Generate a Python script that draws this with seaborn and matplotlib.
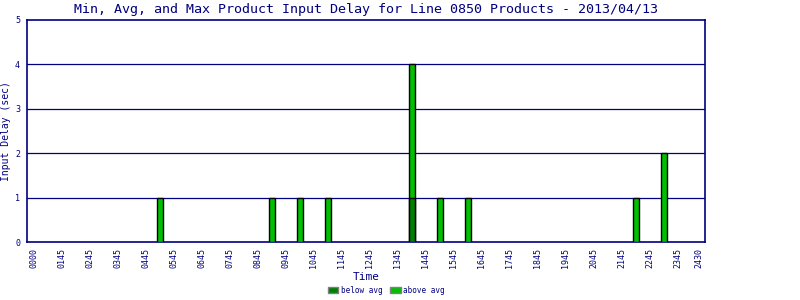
import matplotlib
matplotlib.use("Agg")
import matplotlib.pyplot as plt
import seaborn as sns
import pandas as pd
from matplotlib.patches import Patch

# ---- data ----
bar_times = ["0515", "0915", "1015", "1115", "1415", "1515", "1615", "2215", "2315"]
below_avg = [0, 0, 0, 0, 1, 0, 0, 0, 0]
above_avg = [1, 1, 1, 1, 3, 1, 1, 1, 2]
tick_labels = ["0000", "0145", "0245", "0345", "0445", "0545", "0645", "0745", "0845",
               "0945", "1045", "1145", "1245", "1345", "1445", "1545", "1645", "1745",
               "1845", "1945", "2045", "2145", "2245", "2345", "2430"]
tick_pos = [0.75 + i for i in range(24)] + [24.5]

def to_hours(t):
    return int(t[:2]) + int(t[2:]) / 60.0

x_hours = [to_hours(t) for t in bar_times]
totals = [b + a for b, a in zip(below_avg, above_avg)]
df = pd.DataFrame({"x": x_hours, "below": below_avg, "total": totals})

navy = "#000080"
dark_green = "#008000"
light_green = "#00c000"

sns.set_style("white")
plt.rcParams["font.family"] = ["DejaVu Sans Mono", "DejaVu Sans"]

fig = plt.figure(figsize=(8, 3), dpi=100)
ax = fig.add_axes([27 / 800, 1 - 242 / 300, (705 - 27) / 800, (242 - 20) / 300])

sns.barplot(data=df, x="x", y="total", native_scale=True, width=0.2,
            color=light_green, saturation=1, edgecolor="black", linewidth=1,
            errorbar=None, ax=ax, zorder=3)
sns.barplot(data=df[df["below"] > 0], x="x", y="below", native_scale=True, width=0.2,
            color=dark_green, saturation=1, edgecolor="black", linewidth=1,
            errorbar=None, ax=ax, zorder=4)

ax.set_xlim(0.5, 24.72)
ax.set_ylim(0, 5)
ax.set_yticks(range(6))
ax.set_yticklabels([str(i) for i in range(6)], fontsize=6, color=navy)
ax.set_xticks(tick_pos)
ax.set_xticklabels(tick_labels, rotation=90, fontsize=6, color=navy)
ax.tick_params(axis="y", length=0, pad=5)
ax.tick_params(axis="x", length=0, pad=4)
for y in range(1, 5):
    ax.axhline(y, color=navy, linewidth=0.9, zorder=1)
for s in ax.spines.values():
    s.set_color(navy)
    s.set_linewidth(1.2)
    s.set_visible(True)

ax.set_xlabel("Time", fontsize=8, color=navy, labelpad=3)
ax.set_ylabel("Input Delay (sec)", fontsize=7, color=navy, labelpad=3)
ax.set_title("Min, Avg, and Max Product Input Delay for Line 0850 Products - 2013/04/13",
             fontsize=9.6, color=navy, pad=5)

handles = [Patch(facecolor=dark_green, edgecolor="gray", label="below avg"),
           Patch(facecolor=light_green, edgecolor="gray", label="above avg")]
fig.legend(handles=handles, loc="lower center", bbox_to_anchor=(386 / 800, -0.005),
           ncol=2, frameon=False, fontsize=5.5, handlelength=1.4, handleheight=1.0,
           columnspacing=1.0, handletextpad=0.3, labelcolor=navy)

fig.savefig("out.png", dpi=100)
